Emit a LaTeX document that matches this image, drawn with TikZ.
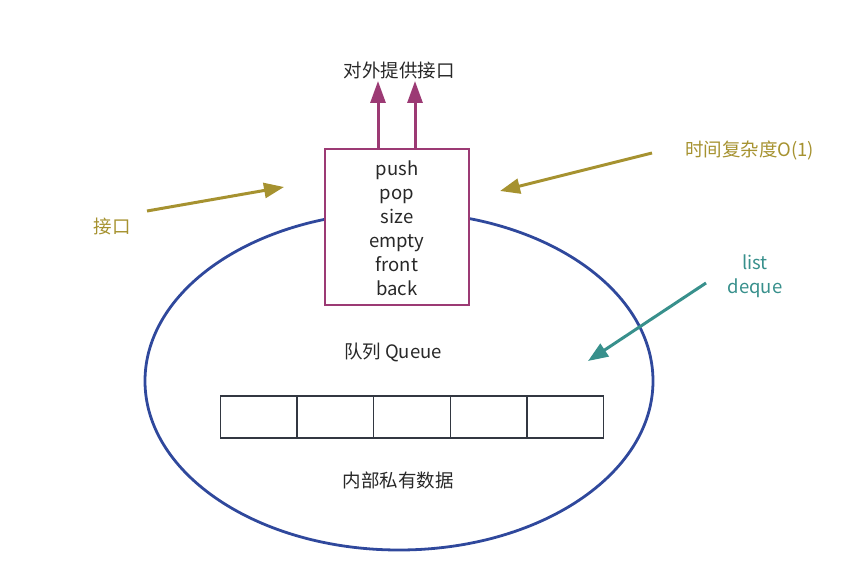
\documentclass[tikz,border=0pt]{standalone}
\usepackage{fontspec}
\setmainfont{Noto Sans CJK SC}
\usetikzlibrary{arrows.meta}
\definecolor{olive}{RGB}{166,146,48}
\definecolor{plum}{RGB}{156,58,116}
\definecolor{qblue}{RGB}{47,72,156}
\definecolor{teal2}{RGB}{56,144,140}
\definecolor{cellc}{RGB}{50,55,65}
\definecolor{txt}{RGB}{40,40,40}
\begin{document}
\begin{tikzpicture}[x=1pt,y=-1pt,
  lbl/.style={font=\fontsize{18.5}{24}\selectfont, text=txt, inner sep=0pt},
  oarrow/.style={draw=olive, line width=3pt, -{Triangle[width=15pt,length=20pt]}},
  parrow/.style={draw=plum, line width=3pt, -{Triangle[width=15pt,length=22pt]}},
  tarrow/.style={draw=teal2, line width=3pt, -{Triangle[width=15pt,length=20pt]}},
  cell/.style={draw=cellc, line width=1.3pt, minimum width=76.6pt, minimum height=42pt, inner sep=0pt, outer sep=0pt, anchor=north west}]
\useasboundingbox (0,0) rectangle (867,588);
% ellipse
\draw[qblue, line width=2.8pt] (399,381) ellipse [x radius=254, y radius=169];
% box
\node[draw=plum, line width=2.8pt, fill=white, minimum width=144pt, minimum height=156pt, anchor=north west, inner sep=0pt, outer sep=0pt] (box) at (325,149) {};
\node[lbl, align=center] (ops) at (397,228) {push\\pop\\size\\empty\\front\\back};
% title
\node[lbl] (title) at (399,70) {对外提供接口};
\coordinate (t1) at (378,81);
\coordinate (t2) at (415,81);
\coordinate (b1) at (378,149);
\coordinate (b2) at (415,149);
\draw[parrow] (b1) -- (t1);
\draw[parrow] (b2) -- (t2);
% labels inside
\node[lbl] (q) at (393,352) {队列 Queue};
\node[lbl] (priv) at (398,480) {内部私有数据};
% cells
\node[cell] (c1) at (220.5,396) {};
\node[cell] (c2) at (c1.north east) {};
\node[cell] (c3) at (c2.north east) {};
\node[cell] (c4) at (c3.north east) {};
\node[cell] (c5) at (c4.north east) {};
% left annotation
\node[lbl, text=olive] (jk) at (112,226) {接口};
\coordinate (ls) at (147,211);
\coordinate (le) at (284,187);
\draw[oarrow] (ls) -- (le);
% right annotation
\node[lbl, text=olive, anchor=west] (tc) at (685,150) {时间复杂度O(1)};
\coordinate (rs) at (652,153);
\coordinate (re) at (500,191);
\draw[oarrow] (rs) -- (re);
% teal annotation
\node[lbl, text=teal2, align=center] (ld) at (755,276) {list\\deque};
\coordinate (ts) at (706,283);
\coordinate (te) at (588,361);
\draw[tarrow] (ts) -- (te);
\end{tikzpicture}
\end{document}
